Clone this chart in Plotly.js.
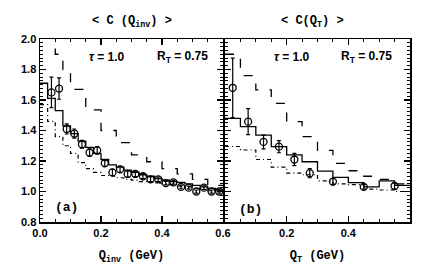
<!DOCTYPE html>
<html>
<head>
<meta charset="utf-8">
<script src="https://cdn.plot.ly/plotly-3.0.1.min.js"></script>
<style>html,body{margin:0;padding:0;background:#fff;}#chart{width:436px;height:266px;}</style>
</head>
<body>
<div id="chart"></div>
<script>
// ---------- Panel (a): C(Q_inv) ----------
const qinvPoints = [0.0375,0.0625,0.0875,0.1125,0.1375,0.1625,0.1875,0.2125,0.2375,0.2625,0.2875,0.3125,0.3375,0.3625,0.3875,0.4125,0.4375,0.4625,0.4875,0.5125,0.5375,0.5625,0.5875];
const qinvC      = [1.65,1.675,1.41,1.38,1.31,1.255,1.27,1.185,1.125,1.145,1.115,1.115,1.10,1.08,1.08,1.055,1.06,1.03,1.025,1.0,1.025,1.0,1.0];
const qinvErr    = [0.10,0.07,0.033,0.03,0.025,0.025,0.025,0.02,0.02,0.02,0.02,0.018,0.015,0.015,0.015,0.012,0.012,0.012,0.01,0.01,0.012,0.01,0.01];

const qinvBinEdges = [0,0.025,0.05,0.075,0.1,0.125,0.15,0.175,0.2,0.225,0.25,0.275,0.3,0.325,0.35,0.375,0.4,0.425,0.45,0.475,0.5,0.525,0.55,0.575,0.6];
const qinvSolid  = [1.71,1.61,1.53,1.43,1.38,1.33,1.29,1.25,1.21,1.175,1.16,1.14,1.125,1.11,1.10,1.085,1.075,1.065,1.06,1.05,1.04,1.03,1.02,1.01];
const qinvDotted = [1.57,1.46,1.36,1.30,1.25,1.19,1.15,1.125,1.105,1.10,1.09,1.08,1.075,1.065,1.06,1.055,1.05,1.045,1.035,1.03,1.02,1.015,1.005,1.0];

const qinvDashEdges = [0,0.05,0.075,0.1,0.15,0.2,0.25,0.3,0.35,0.4,0.45,0.5,0.55,0.6];
const qinvDashed    = [2.1,1.90,1.80,1.67,1.535,1.40,1.32,1.24,1.195,1.15,1.115,1.08,1.04];

// ---------- Panel (b): C(Q_T) ----------
const qtPoints = [0.025,0.075,0.125,0.175,0.225,0.275,0.35,0.45,0.55];
const qtC      = [1.68,1.458,1.325,1.294,1.21,1.12,1.065,1.03,1.036];
const qtErr    = [0.195,0.085,0.045,0.04,0.04,0.03,0.02,0.015,0.02];

const qtBinEdges = [0,0.05,0.1,0.15,0.2,0.25,0.3,0.35,0.4,0.45,0.5,0.55,0.6];
const qtSolid    = [1.48,1.425,1.37,1.294,1.24,1.195,1.134,1.093,1.058,1.03,1.07,1.04];
const qtDashed   = [1.9,1.76,1.667,1.578,1.458,1.36,1.27,1.185,1.136,1.10,1.08,1.05];
const qtDotted   = [1.295,1.272,1.21,1.16,1.12,1.11,1.07,1.05,1.045,1.015,1.01,1.0];

// tick labels
const xTickVals = [0,0.2,0.4,0.6];
const xTickText = ['0.0','0.2','0.4','0.6'];
const x2TickVals = [0.2,0.4];
const x2TickText = ['0.2','0.4'];
const yTickVals = [0.8,1.0,1.2,1.4,1.6,1.8,2.0];
const yTickText = ['0.8','1.0','1.2','1.4','1.6','1.8','2.0'];

// step helper: repeat last value at final edge
function stepY(vals){ return vals.concat([vals[vals.length-1]]); }

const black = '#000';
function histo(edges, vals, xa, ya, dash, w){
  return {x: edges, y: stepY(vals), xaxis: xa, yaxis: ya, mode:'lines', type:'scatter',
          line:{shape:'hv', color:black, width:w, dash:dash}, hoverinfo:'skip', showlegend:false};
}
function points(xs, ys, es, xa, ya){
  return {x: xs, y: ys, xaxis: xa, yaxis: ya, mode:'markers', type:'scatter', showlegend:false,
          marker:{symbol:'circle-open', size:7, color:black, line:{width:1.3, color:black}},
          error_y:{type:'data', array: es, visible:true, color:black, thickness:1.2, width:2}};
}

const traces = [
  histo(qinvDashEdges, qinvDashed, 'x', 'y', '9px,11px', 1.3),
  histo(qinvBinEdges, qinvDotted, 'x', 'y', '4px,3px,1px,3px', 1.2),
  histo(qinvBinEdges, qinvSolid, 'x', 'y', 'solid', 1.3),
  points(qinvPoints, qinvC, qinvErr, 'x', 'y'),
  histo(qtBinEdges, qtDashed, 'x2', 'y2', '9px,11px', 1.3),
  histo(qtBinEdges, qtDotted, 'x2', 'y2', '4px,3px,1px,3px', 1.2),
  histo(qtBinEdges, qtSolid, 'x2', 'y2', 'solid', 1.3),
  points(qtPoints, qtC, qtErr, 'x2', 'y2')
];

const tickFont = {family:'Liberation Sans, Arial, sans-serif', size:11, color:black, weight:'bold'};
const titleFont = {family:'Liberation Mono, Courier New, monospace', size:12, color:black, weight:'bold'};

function xAxis(domain, anchor, tv, tt, title){
  return {domain: domain, anchor: anchor, range:[0,0.6], showgrid:false, zeroline:false,
    showline:true, linecolor:black, linewidth:1.5, mirror:'allticks',
    ticks:'inside', ticklen:6, tickwidth:1.2, tickcolor:black,
    tickvals: tv, ticktext: tt, tickfont: tickFont,
    minor:{dtick:0.05, tick0:0, ticks:'inside', ticklen:3, tickwidth:1, tickcolor:black},
    title:{text:title, font:titleFont, standoff:13}};
}
function yAxis(anchor, labels){
  return {anchor: anchor, domain:[0,1], range:[0.8,2.0], showgrid:false, zeroline:false,
    showline:true, linecolor:black, linewidth:1.5, mirror:'allticks',
    ticks:'inside', ticklen:6, tickwidth:1.2, tickcolor:black,
    tickvals: yTickVals, ticktext: yTickText, showticklabels: labels, tickfont: tickFont,
    minor:{dtick:0.025, tick0:0.8, ticks:'inside', ticklen:3, tickwidth:1, tickcolor:black}};
}

const annFont = {family:'Liberation Sans, Arial, sans-serif', size:12, color:black, weight:'bold'};
const labelFont = {family:'Liberation Mono, Courier New, monospace', size:13, color:black, weight:'bold'};
function ann(text, xref, yref, x, y, font, xanchor){
  return {text:text, xref:xref, yref:yref, x:x, y:y, showarrow:false, font:font,
          xanchor: xanchor||'center', yanchor:'middle'};
}

const layout = {
  width:436, height:266,
  margin:{l:40, r:26, t:39, b:44, pad:0},
  paper_bgcolor:'#fff', plot_bgcolor:'#fff',
  showlegend:false,
  xaxis: xAxis([0,0.4946], 'y', xTickVals, xTickText, 'Q<sub>inv</sub> (GeV)'),
  yaxis: yAxis('x', true),
  xaxis2: xAxis([0.5,1], 'y2', x2TickVals, x2TickText, 'Q<sub>T</sub> (GeV)'),
  yaxis2: yAxis('x2', false),
  annotations: [
    ann('&lt; C (Q<sub>inv</sub>) &gt;', 'x', 'paper', 0.30, 1.093, titleFont),
    ann('&lt; C(Q<sub>T</sub>) &gt;', 'x2', 'paper', 0.285, 1.093, titleFont),
    ann('<i>τ</i> = 1.0', 'x', 'y', 0.221, 1.88, annFont),
    ann('R<sub>T</sub> = 0.75', 'x', 'y', 0.466, 1.88, annFont),
    ann('<i>τ</i> = 1.0', 'x2', 'y2', 0.2175, 1.88, annFont),
    ann('R<sub>T</sub> = 0.75', 'x2', 'y2', 0.458, 1.88, annFont),
    ann('(a)', 'x', 'y', 0.087, 0.892, labelFont),
    ann('(b)', 'x2', 'y2', 0.084, 0.885, labelFont)
  ]
};

Plotly.newPlot('chart', traces, layout, {staticPlot:true, displayModeBar:false});
</script>
</body>
</html>
